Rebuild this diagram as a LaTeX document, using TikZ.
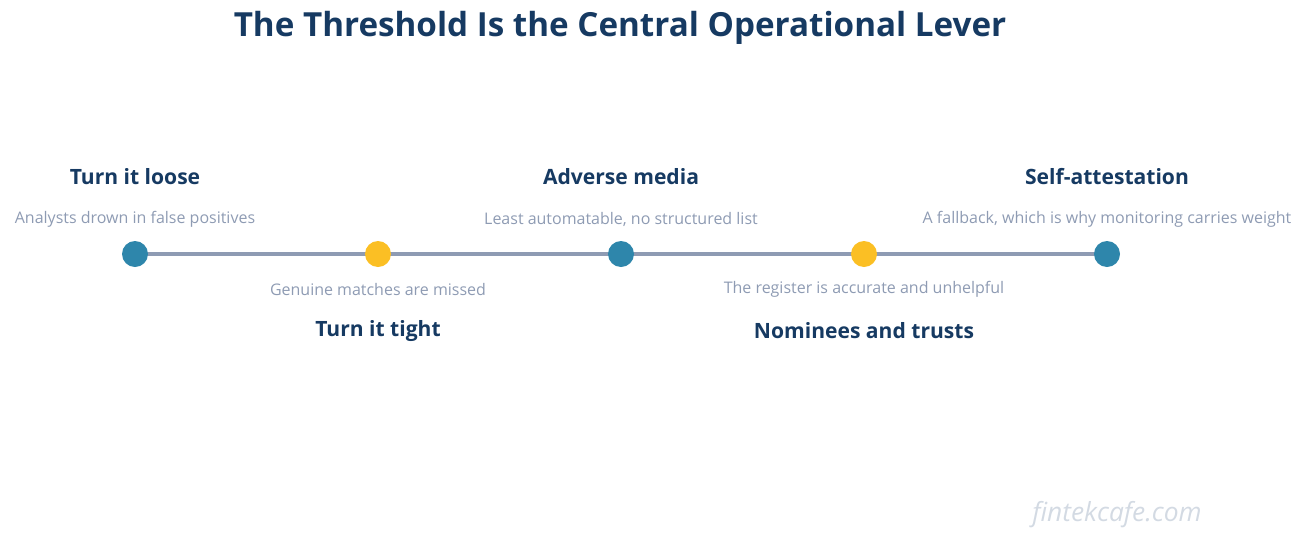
\documentclass[tikz,border=0pt]{standalone}
\usepackage{fontspec}
\setmainfont{Open Sans}
\definecolor{navy}{HTML}{163A62}
\definecolor{teal}{HTML}{2E86AB}
\definecolor{amber}{HTML}{FBBF24}
\definecolor{slate}{HTML}{8E9BB3}
\definecolor{mist}{HTML}{D3DAE3}
\begin{document}
\begin{tikzpicture}[x=0.02cm, y=-0.02cm]
    % Define styles for nodes and lines
    \tikzset{head/.style={text=navy, font=\fontsize{12}{14}\selectfont\bfseries},
        note/.style={text=slate, font=\fontsize{9.1}{11}\selectfont},
        dotA/.style={circle, fill=teal, minimum size=0.52cm, inner sep=0pt},
        dotB/.style={circle, fill=amber, minimum size=0.52cm, inner sep=0pt},
        track/.style={draw=slate, line width=2.3pt}}
    \useasboundingbox (0,0) rectangle (1306,542);
    % Title
    \node (title) [text=navy, font=\fontsize{18.9}{22}\selectfont\bfseries] at (620,28) {The Threshold Is the Central Operational Lever};
    % Dots
    \coordinate (start) at (135,254);
    \coordinate (stop) at (1107,254);
    \draw [track] (start) -- (stop);
    \node (loose) [dotA] at (135,254) {};
    \node (tight) [dotB] at (378,254) {};
    \node (media) [dotA] at (621,254) {};
    \node (trust) [dotB] at (864,254) {};
    \node (attest) [dotA] at (1107,254) {};
    % Labels above
    \node [head] at (135,177) {Turn it loose};
    \node [note] at (135,219) {Analysts drown in false positives};
    \node [head] at (621,177) {Adverse media};
    \node [note] at (621,219) {Least automatable, no structured list};
    \node [head] at (1107,177) {Self-attestation};
    \node [note] at (1107,219) {A fallback, which is why monitoring carries weight};
    % Labels below
    \node [note] at (378,289) {Genuine matches are missed};
    \node [head] at (378,331) {Turn it tight};
    \node [note] at (864,289) {The register is accurate and unhelpful};
    \node [head] at (864,331) {Nominees and trusts};
    % Watermark
    \node (mark) [text=mist, font=\fontsize{15}{17}\selectfont\itshape] at (1117,515) {fintekcafe.com};
\end{tikzpicture}
\end{document}
